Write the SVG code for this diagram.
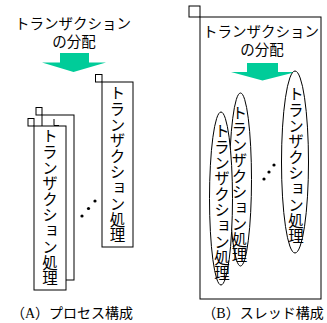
<svg xmlns="http://www.w3.org/2000/svg" width="327" height="323" viewBox="0 0 327 323">
<defs>
<style>
.t{font-family:"Noto Sans CJK JP","Noto Sans",sans-serif;font-size:14.5px;fill:#000;text-anchor:middle}
.v{font-family:"Noto Sans CJK JP","Noto Sans",sans-serif;font-size:15.5px;letter-spacing:0.3px;fill:#000;writing-mode:vertical-rl;text-anchor:start}
.c{font-family:"Liberation Serif","Noto Sans CJK JP",serif;font-size:14px;fill:#000;text-anchor:middle}
.b{fill:#fff;stroke:#000;stroke-width:1}
.n{fill:none;stroke:#000;stroke-width:1}
.g{fill:#00cc99;stroke:none}
.d{fill:#000}
</style>
</defs>
<rect width="327" height="323" fill="#fff"/>

<!-- (A) process configuration -->
<g id="titleA">
<text class="t" x="73" y="28.5">トランザクション</text>
<text class="t" x="74" y="47">の分配</text>
</g>
<g id="arrowA">
<polygon class="g" points="60,53 89,53 89,62.5 106,62.5 73.5,72 42,62.5 60,62.5"/>
</g>
<g id="procBack">
<rect class="n" x="36" y="107.5" width="6" height="7.5"/>
<rect class="b" x="42" y="115" width="32" height="165"/>
<polyline class="n" points="54,119 54,125.5 59,125.5"/>
</g>
<g id="procFront">
<rect class="n" x="28" y="118.5" width="6" height="7.5"/>
<rect class="b" x="34" y="126" width="32" height="164"/>
<text class="v" x="50" y="128"><tspan>ト</tspan><tspan>ラ</tspan><tspan>ン</tspan><tspan>ザ</tspan><tspan>ク</tspan><tspan>シ</tspan><tspan>ョ</tspan><tspan>ン</tspan><tspan>処</tspan><tspan>理</tspan></text>
</g>
<g id="procRight">
<rect class="n" x="95.5" y="74.5" width="6.5" height="7.5"/>
<rect class="b" x="102" y="82" width="31" height="165"/>
<text class="v" x="117.5" y="85"><tspan>ト</tspan><tspan>ラ</tspan><tspan>ン</tspan><tspan>ザ</tspan><tspan>ク</tspan><tspan>シ</tspan><tspan>ョ</tspan><tspan>ン</tspan><tspan>処</tspan><tspan>理</tspan></text>
</g>
<g id="dotsA">
<circle class="d" cx="82" cy="216" r="1.6"/>
<circle class="d" cx="88.5" cy="208.5" r="1.6"/>
<circle class="d" cx="95" cy="201" r="1.6"/>
</g>
<g id="captionA">
<text class="c" x="72" y="318">（A）プロセス構成</text>
</g>

<!-- (B) thread configuration -->
<g id="processB">
<rect class="n" x="189" y="6" width="11" height="11"/>
<rect class="b" x="200" y="17" width="121" height="282"/>
</g>
<g id="titleB">
<text class="t" x="261" y="36.5">トランザクション</text>
<text class="t" x="262" y="55">の分配</text>
</g>
<g id="arrowB">
<polygon class="g" points="247,63 278,63 278,72 296,72 262.5,80.5 231,72 247,72"/>
</g>
<g id="threadRight">
<ellipse class="b" cx="295" cy="162" rx="13.5" ry="91"/>
<text class="v" x="296" y="86"><tspan>ト</tspan><tspan>ラ</tspan><tspan>ン</tspan><tspan>ザ</tspan><tspan>ク</tspan><tspan>シ</tspan><tspan>ョ</tspan><tspan>ン</tspan><tspan>処</tspan><tspan>理</tspan></text>
</g>
<g id="threadMid">
<ellipse class="b" cx="240.5" cy="179.5" rx="11" ry="86.5"/>
<text class="v" x="239.5" y="105"><tspan>ト</tspan><tspan>ラ</tspan><tspan>ン</tspan><tspan>ザ</tspan><tspan>ク</tspan><tspan>シ</tspan><tspan>ョ</tspan><tspan>ン</tspan><tspan>処</tspan><tspan>理</tspan></text>
</g>
<g id="threadFront">
<ellipse class="b" cx="221" cy="198.5" rx="11.5" ry="86.5"/>
<text class="v" x="222" y="123"><tspan>ト</tspan><tspan>ラ</tspan><tspan>ン</tspan><tspan>ザ</tspan><tspan>ク</tspan><tspan>シ</tspan><tspan>ョ</tspan><tspan>ン</tspan><tspan>処</tspan><tspan>理</tspan></text>
</g>
<g id="dotsB">
<circle class="d" cx="264" cy="179" r="1.6"/>
<circle class="d" cx="269" cy="172" r="1.6"/>
<circle class="d" cx="274" cy="165" r="1.6"/>
</g>
<g id="captionB">
<text class="c" x="263" y="318">（B）スレッド構成</text>
</g>
<g id="connectors"></g>
</svg>
